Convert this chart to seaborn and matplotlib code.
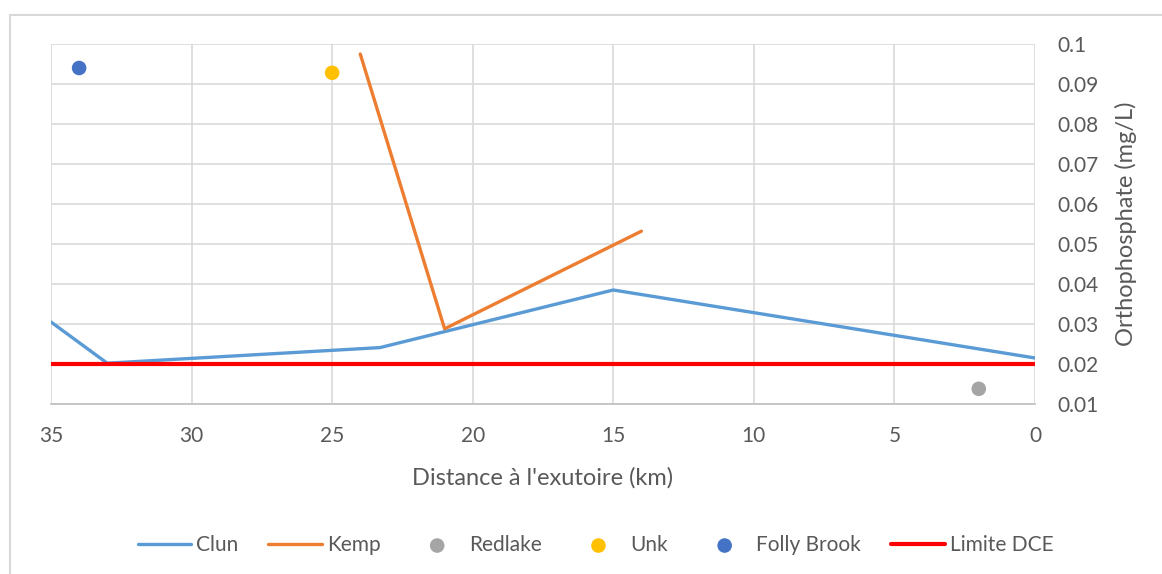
import matplotlib
matplotlib.use("Agg")
import matplotlib.pyplot as plt
import seaborn as sns
import pandas as pd
from matplotlib.lines import Line2D

# --- données ---
clun_km = [35, 33, 23.3, 15, 0]
clun_po4 = [0.0305, 0.0202, 0.0241, 0.0385, 0.0215]

kemp_km = [24, 21, 14]
kemp_po4 = [0.0975, 0.0288, 0.0532]

redlake_km = [2]
redlake_po4 = [0.0138]

unk_km = [25]
unk_po4 = [0.0928]

folly_km = [34]
folly_po4 = [0.094]

limite_km = [35, 0]
limite_po4 = [0.02, 0.02]

x_ticks = [35, 30, 25, 20, 15, 10, 5, 0]
y_ticks = [0.01, 0.02, 0.03, 0.04, 0.05, 0.06, 0.07, 0.08, 0.09, 0.1]

sns.set_style("white")
plt.rcParams['font.family'] = ['Lato', 'DejaVu Sans']
gris_txt = '#595959'

fig = plt.figure(figsize=(11.62, 5.74), dpi=100)
ax = fig.add_axes([51 / 1162, 1 - 404 / 574, (1035 - 51) / 1162, (404 - 44) / 574])

# cadre extérieur (style Excel)
fig.add_artist(Line2D([10 / 1162, 10 / 1162], [0, 1 - 15 / 574], transform=fig.transFigure,
                      color='#d9d9d9', lw=1.5))
fig.add_artist(Line2D([10 / 1162, 1], [1 - 15 / 574, 1 - 15 / 574], transform=fig.transFigure,
                      color='#d9d9d9', lw=1.5))

df_clun = pd.DataFrame({'km': clun_km, 'po4': clun_po4})
df_kemp = pd.DataFrame({'km': kemp_km, 'po4': kemp_po4})
df_lim = pd.DataFrame({'km': limite_km, 'po4': limite_po4})

sns.lineplot(data=df_clun, x='km', y='po4', ax=ax, color='#5b9bd5', lw=2.4, sort=False,
             label='Clun', zorder=3)
sns.lineplot(data=df_kemp, x='km', y='po4', ax=ax, color='#ed7d31', lw=2.4, sort=False,
             label='Kemp', zorder=3)
sns.scatterplot(x=redlake_km, y=redlake_po4, ax=ax, color='#a5a5a5', s=110, edgecolor='none',
                label='Redlake', zorder=4)
sns.scatterplot(x=unk_km, y=unk_po4, ax=ax, color='#ffc000', s=110, edgecolor='none',
                label='Unk', zorder=4)
sns.scatterplot(x=folly_km, y=folly_po4, ax=ax, color='#4472c4', s=110, edgecolor='none',
                label='Folly Brook', zorder=4)
sns.lineplot(data=df_lim, x='km', y='po4', ax=ax, color='#ff0000', lw=3, sort=False,
             label='Limite DCE', zorder=3)

ax.set_xlim(35, 0)
ax.set_ylim(0.01, 0.1)
ax.set_xticks(x_ticks)
ax.set_xticklabels([str(v) for v in x_ticks])
ax.set_yticks(y_ticks)
ax.set_yticklabels([f"{v:g}" for v in y_ticks])
ax.yaxis.tick_right()
ax.yaxis.set_label_position('right')
ax.tick_params(length=0, labelsize=15, colors=gris_txt)
ax.tick_params(axis='x', pad=16)
ax.tick_params(axis='y', pad=16)

ax.grid(True, color='#d9d9d9', lw=1.2)
for s in ['top', 'left', 'right']:
    ax.spines[s].set_visible(False)
ax.spines['bottom'].set_color('#bfbfbf')
ax.spines['bottom'].set_linewidth(1.2)

ax.set_xlabel("Distance à l'exutoire (km)", fontsize=17, color=gris_txt, labelpad=15)
ax.set_ylabel("Orthophosphate (mg/L)", fontsize=17, color=gris_txt, labelpad=12)

ax.legend(loc='center', bbox_to_anchor=((595.5 - 51) / 984, (404 - 545) / 360), ncol=6,
          frameon=False, fontsize=15, handlelength=2.55, handletextpad=0.25,
          columnspacing=1.45, labelcolor=gris_txt)

fig.savefig('out.png', dpi=100)
